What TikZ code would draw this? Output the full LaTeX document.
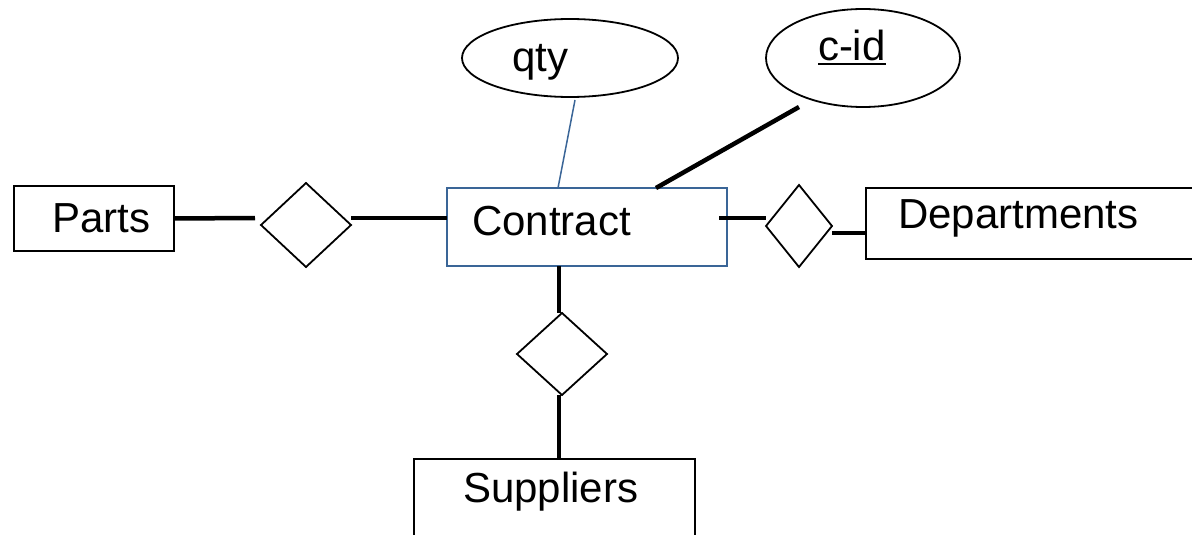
\documentclass[tikz,border=0pt]{standalone}
\usepackage{fontspec}
\setmainfont{Liberation Sans}
\usetikzlibrary{shapes.geometric}
\definecolor{cblue}{HTML}{3A6597}
\begin{document}
\begin{tikzpicture}[x=1pt,y=-1pt,
  box/.style={draw=black,line width=1.8pt,rectangle,inner sep=0pt,outer sep=0pt},
  rel/.style={draw=black,line width=1.8pt,diamond,inner sep=0pt,outer sep=0pt},
  attr/.style={draw=black,line width=1.8pt,ellipse,inner sep=0pt,outer sep=0pt},
  lbl/.style={inner sep=0pt,outer sep=0pt,anchor=base west,font=\fontsize{42}{50}\selectfont},
  conn/.style={draw=black,line width=4.5pt},
  thin/.style={draw=cblue,line width=1.5pt}
]
\useasboundingbox (0,0) rectangle (1192,535);
% entities and relationship
\node[box,minimum width=160pt,minimum height=65pt] (parts) at (94,218.5) {};
\node[box,draw=cblue,minimum width=280pt,minimum height=78pt] (contract) at (587,227) {};
\node[box,minimum width=328pt,minimum height=71pt] (deps) at (1030,223.5) {};
\node[box,minimum width=281pt,minimum height=86pt] (supp) at (554.5,502) {};
\node[rel,minimum width=90pt,minimum height=84pt] (d1) at (306,225) {};
\node[rel,minimum width=66pt,minimum height=82pt] (d2) at (799,226) {};
\node[rel,minimum width=90pt,minimum height=82pt] (d3) at (562,354) {};
\node[attr,minimum width=216pt,minimum height=78pt] (qty) at (570,58) {};
\node[attr,minimum width=194pt,minimum height=98pt] (cid) at (863,58) {};
% labels
\node[lbl] (partsT) at (52,232) {Parts};
\node[lbl] (contractT) at (472,235) {Contract};
\node[lbl] (depsT) at (898,228) {Departments};
\node[lbl] (suppT) at (463,502) {Suppliers};
\node[lbl] (qtyT) at (512,72) {qty};
\node[lbl] (cidT) at (818,61) {c-id};
\draw[line width=2.2pt] ([yshift=-3pt]cidT.base west) -- ([yshift=-3pt]cidT.base east);
% helper coordinates
\coordinate (rowA) at (0,218);
\coordinate (rowB) at (0,233);
\coordinate (colx) at (559,0);
\coordinate (p1) at (255,218);
\coordinate (c2) at (719,218);
\coordinate (qa) at (575,100);
\coordinate (qb) at (558,0);
\coordinate (ca) at (799,107);
\coordinate (cb) at (656,0);
% connectors
\draw[conn] (parts.east) -- (p1);
\draw[conn] (d1.east |- rowA) -- (contract.west |- rowA);
\draw[conn] (c2) -- (d2.west |- rowA);
\draw[conn] (d2.east |- rowB) -- (deps.west |- rowB);
\draw[conn] (contract.south -| colx) -- (d3.north -| colx);
\draw[conn] (d3.south -| colx) -- (supp.north -| colx);
\draw[thin] (qa) -- (contract.north -| qb);
\draw[conn] (ca) -- (contract.north -| cb);
\end{tikzpicture}
\end{document}
